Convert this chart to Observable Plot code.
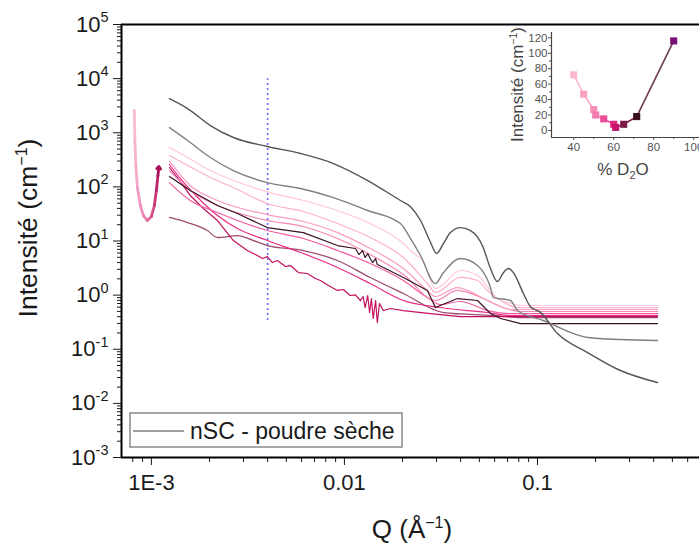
<!DOCTYPE html>
<html><head><meta charset="utf-8">
<script src="https://cdn.jsdelivr.net/npm/d3@7"></script>
<script src="https://cdn.jsdelivr.net/npm/@observablehq/plot@0.6"></script>
<style>
body{margin:0;background:#fff;}
#chart{position:relative;width:699px;height:547px;overflow:hidden;background:#fff;}
</style>
</head><body><div id="chart"></div>
<script>
// ---------- main chart data (Q in Å^-1, intensity in cm^-1) ----------
const qA = [1.24e-3,1.54e-3,2.02e-3,2.66e-3,3.99e-3,5.92e-3,8.77e-3,1.32e-2,1.95e-2,2.20e-2,2.48e-2,2.79e-2,3.00e-2,3.26e-2,3.54e-2,3.99e-2,4.50e-2,5.19e-2,5.71e-2,6.20e-2,6.66e-2,7.08e-2,7.51e-2,8.46e-2,0.092,0.1036,0.127,0.182,0.269,0.419];
const iA = [4266,2800,1358,817,556,413,270,131,56,43,23.9,9.5,5.9,9.0,14.3,17.7,15.6,8.2,3.1,1.78,2.6,3.1,2.6,1.07,0.61,0.48,0.195,0.087,0.0405,0.0243];

const qB = [1.24e-3,1.54e-3,2.02e-3,2.66e-3,3.99e-3,5.92e-3,8.77e-3,1.32e-2,1.95e-2,2.20e-2,2.48e-2,2.96e-2,3.26e-2,3.99e-2,4.89e-2,5.71e-2,5.92e-2,7.25e-2,7.88e-2,0.107,0.182,0.269,0.419];
const iB = [1247,718,349,200,120,93.1,63.5,36.6,21.0,11.1,5.39,1.64,2.61,4.74,3.52,1.38,0.90,0.795,0.519,0.340,0.165,0.151,0.145];

const qP1 = [1.24e-3,1.54e-3,2.02e-3,2.66e-3,3.99e-3,6.13e-3,9.20e-3,1.36e-2,2.02e-2,2.20e-2,2.57e-2,2.96e-2,3.99e-2,4.89e-2,5.71e-2,6.20e-2,7.25e-2,8.46e-2,0.419];
const iP1 = [533,349,200,131,81,56,36.6,21.0,8.98,6.67,4.0,1.32,2.85,2.30,1.22,0.865,0.70,0.643,0.643];

const qP2 = [1.24e-3,1.54e-3,2.02e-3,2.66e-3,3.99e-3,6.13e-3,9.20e-3,1.36e-2,2.02e-2,2.69e-2,2.96e-2,3.99e-2,4.89e-2,5.51e-2,6.43e-2,7.88e-2,0.419];
const iP2 = [379,248,149,97.2,49.2,35.1,21.0,11.6,4.95,1.64,1.12,2.12,1.86,1.22,0.795,0.59,0.59];

const qP3 = [1.24e-3,1.59e-3,2.20e-3,3.99e-3,6.13e-3,9.20e-3,1.36e-2,2.02e-2,2.69e-2,2.96e-2,3.85e-2,5.51e-2,7.25e-2,0.419];
const iP3 = [300,106,56.0,30.8,22.9,14.3,7.26,3.10,1.22,0.94,1.38,0.795,0.542,0.542];

const qP4 = [1.24e-3,1.59e-3,2.20e-3,3.99e-3,6.13e-3,9.20e-3,1.36e-2,2.02e-2,2.96e-2,3.85e-2,5.25e-2,6.43e-2,8.17e-2,0.419];
const iP4 = [200,85.6,45.2,23.9,18.5,11.1,5.62,2.40,0.795,1.22,0.865,0.616,0.498,0.498];

const qP5 = [1.24e-3,1.59e-3,2.20e-3,3.99e-3,6.13e-3,9.20e-3,1.36e-2,2.02e-2,2.69e-2,3.14e-2,3.99e-2,5.51e-2,7.25e-2,0.419];
const iP5 = [120,56,33.6,15.6,11.1,6.67,3.84,1.86,0.903,0.670,0.762,0.519,0.457,0.457];

const qM1 = [1.24e-3,1.41e-3,1.80e-3,2.20e-3,2.79e-3,3.99e-3,6.13e-3,9.20e-3,1.36e-2,2.02e-2,3.14e-2,5.51e-2,7.25e-2,0.419];
const iM1 = [260,143,56,29.5,17.0,10.2,5.87,3.24,1.64,0.795,0.59,0.477,0.42,0.42];

const qN = [1.24e-3,1.41e-3,1.59e-3,1.86e-3,2.20e-3,2.66e-3,3.14e-3,3.54e-3,3.76e-3,3.99e-3,4.24e-3,4.50e-3,4.95e-3,5.25e-3,5.78e-3,6.43e-3,7.07e-3,7.51e-3,8.26e-3,9.20e-3,9.88e-3,1.07e-2,1.14e-2,1.21e-2,1.25e-2,1.28e-2,1.32e-2,1.35e-2,1.38e-2,1.41e-2,1.45e-2,1.48e-2,1.52e-2,1.59e-2,1.73e-2,2.02e-2,2.79e-2,3.99e-2,0.419];
const iN = [228,126,69.2,39.8,23.9,10.2,6.67,5.39,4.74,5.15,4.0,4.36,3.38,3.52,2.61,2.51,2.03,1.86,1.50,1.22,1.27,0.983,1.01,0.795,0.942,0.59,0.983,0.477,0.865,0.37,0.795,0.312,0.70,0.519,0.566,0.519,0.457,0.402,0.402];

const qK = [1.24e-3,1.59e-3,2.20e-3,2.79e-3,3.99e-3,6.13e-3,9.20e-3,1.14e-2,1.19e-2,1.24e-2,1.28e-2,1.32e-2,1.36e-2,1.40e-2,1.45e-2,1.48e-2,2.02e-2,2.69e-2,2.96e-2,3.85e-2,4.89e-2,5.71e-2,6.43e-2,8.17e-2,0.419];
const iK = [155,85.6,45.2,32.2,17.7,14.3,8.24,7.26,5.62,6.67,4.95,5.87,4.74,4.0,4.74,3.67,2.12,1.22,0.59,0.865,0.795,0.457,0.37,0.298,0.298];

const qMV = [1.24e-3,1.54e-3,1.95e-3,2.20e-3,2.79e-3,3.38e-3,3.99e-3,6.13e-3,9.20e-3,1.36e-2,2.02e-2,3.26e-2,5.92e-2,8.17e-2,0.419];
const iMV = [27.2,21.9,15.6,11.6,12.6,10.2,8.24,6.67,4.36,2.12,1.07,0.477,0.42,0.385,0.385];

// curved-arrow annotation
const arrowQ = [8.16e-4,8.21e-4,8.31e-4,8.46e-4,8.77e-4,9.09e-4,9.53e-4,1.0e-3,1.036e-3,1.061e-3,1.081e-3,1.094e-3];
const arrowI = [2575,718,248,97.2,45.2,29.5,23.9,28.3,45.2,85.6,162,238];
const arrowColors = ["#f9bcd6","#f7b2cf","#f5a8c9","#f29cc2","#ee8fba","#ea83b2","#e06a9f","#d4508c","#c8387a","#bb226a","#ac0f5c"];

// dotted marker line
const markerQ = [0.004];
const markerRange = [0.34, 1e4];

// axes
const xDomain = [7e-4, 0.691];
const yDomain = [1e-3, 1e5];
const yMajor = [1e-3,1e-2,1e-1,1,1e1,1e2,1e3,1e4,1e5];
const xMajor = [1e-3, 1e-2, 1e-1];
const xLabels = ["1E-3", "0.01", "0.1"];
const yMinor = [];
for (let k = -3; k < 5; k++) for (let m = 2; m <= 9; m++) yMinor.push(m * 10 ** k);
const xMinor = [8e-4, 9e-4];
for (let k = -3; k < 0; k++) for (let m = 2; m <= 9; m++) { const v = m * 10 ** k; if (v < 0.69) xMinor.push(v); }

const yTitle = ["Intensité (cm", "−1", ")"];
const xTitle = ["Q (Å", "−1", ")"];
const legendLabel = "nSC - poudre sèche";

// ---------- inset data ----------
const pctD2O = [40, 45, 50, 51, 55, 60, 61, 65, 71.5, 90];
const insetI = [72, 47, 27, 20, 15, 8, 4, 8, 18, 116];
const insetColors = ["#fbb6d0","#f8a2c5","#f68fba","#f27cb0","#eb4f98","#e0267e","#c5126a","#7c1d46","#3c0d1f","#7b1078"];
const insetSegColors = ["#fbb6d0","#f8a2c5","#f68fba","#f27cb0","#eb4f98","#e0267e","#c5126a","#7c1d46","#6b3c50"];
const insetYTicks = [0,20,40,60,80,100,120];
const insetYMinor = [10,30,50,70,90,110];
const insetXTicks = [40,60,80,100];
const insetXMinor = [50,70,90];

// ---------- build ----------
const FONT = "'Liberation Sans', Arial, Helvetica, sans-serif";
const rows = (q, I) => q.map((v, i) => ({q: v, I: I[i]}));

const curves = [
  {q: qMV, I: iMV, color: "#9c4c70", w: 1.3, curve: "monotone-x"},
  {q: qN,  I: iN,  color: "#c4105e", w: 1.2, curve: "linear"},
  {q: qM1, I: iM1, color: "#ea2a84", w: 1.2, curve: "monotone-x"},
  {q: qP5, I: iP5, color: "#f35a9f", w: 1.2, curve: "monotone-x"},
  {q: qP4, I: iP4, color: "#f585b4", w: 1.2, curve: "monotone-x"},
  {q: qP3, I: iP3, color: "#f99bc1", w: 1.2, curve: "monotone-x"},
  {q: qP2, I: iP2, color: "#fcb0cc", w: 1.2, curve: "monotone-x"},
  {q: qP1, I: iP1, color: "#ffc7dc", w: 1.2, curve: "monotone-x"},
  {q: qK,  I: iK,  color: "#3a1424", w: 1.2, curve: "linear"},
  {q: qB,  I: iB,  color: "#808080", w: 1.4, curve: "monotone-x"},
  {q: qA,  I: iA,  color: "#555555", w: 1.4, curve: "monotone-x"}
];

const arrowSegs = arrowColors.map((c, i) => ({x1: arrowQ[i], y1: arrowI[i], x2: arrowQ[i+1], y2: arrowI[i+1], c}));

const svg = Plot.plot({
  width: 699, height: 547,
  marginLeft: 121, marginTop: 24, marginRight: 0, marginBottom: 90,
  x: {type: "log", domain: xDomain, label: null},
  y: {type: "log", domain: yDomain, label: null},
  color: {type: "identity"},
  style: {fontFamily: FONT, fontSize: "22px", color: "#1a1a1a", background: "white"},
  marks: [
    Plot.axisY(yMinor, {anchor: "left", tickSize: 4, tickFormat: () => "", label: null}),
    Plot.axisY(yMajor, {anchor: "left", tickSize: 8, tickPadding: 5, tickFormat: d => String(Math.round(Math.log10(d))), label: null}),
    Plot.axisX(xMinor, {anchor: "bottom", tickSize: 5, tickFormat: () => "", label: null}),
    Plot.axisX(xMajor, {anchor: "bottom", tickSize: 8, tickPadding: 9, tickFormat: d => xLabels[xMajor.indexOf(d)], label: null}),
    Plot.ruleX(markerQ, {y1: markerRange[0], y2: markerRange[1], stroke: "#6b6bf5", strokeWidth: 1.6, strokeDasharray: "2,3"}),
    ...curves.map(c => Plot.line(rows(c.q, c.I), {x: "q", y: "I", stroke: c.color, strokeWidth: c.w, curve: c.curve})),
    Plot.link(arrowSegs.slice(0, -1), {x1: "x1", y1: "y1", x2: "x2", y2: "y2", stroke: "c", strokeWidth: 2.8, strokeLinecap: "round"}),
    Plot.arrow(arrowSegs.slice(-1), {x1: "x1", y1: "y1", x2: "x2", y2: "y2", stroke: "c", strokeWidth: 2.8, headLength: 11, headAngle: 80}),
    Plot.ruleX([xDomain[0]], {stroke: "#000", strokeWidth: 2}),
    Plot.ruleY([yDomain[0]], {stroke: "#000", strokeWidth: 2}),
    Plot.ruleY([yDomain[1]], {stroke: "#000", strokeWidth: 2})
  ]
});

const s = d3.select(svg);
// superscript exponents on the y tick labels
s.selectAll('g[aria-label="y-axis tick label"] text').each(function () {
  const e = this.textContent;
  if (!e) return;
  const t = d3.select(this);
  t.text("");
  t.append("tspan").text("10");
  t.append("tspan").attr("dy", -9.5).attr("font-size", 14.5).text(e);
});

// axis titles
const yl = s.append("text").attr("transform", "translate(37,228) rotate(-90)")
  .attr("text-anchor", "middle").attr("font-size", 26.5).attr("fill", "#1a1a1a");
yl.append("tspan").text(yTitle[0]);
yl.append("tspan").attr("dy", -10).attr("font-size", 16).text(yTitle[1]);
yl.append("tspan").attr("dy", 10).text(yTitle[2]);

const xl = s.append("text").attr("x", 412).attr("y", 538)
  .attr("text-anchor", "middle").attr("font-size", 26).attr("fill", "#1a1a1a");
xl.append("tspan").text(xTitle[0]);
xl.append("tspan").attr("dy", -10).attr("font-size", 16).text(xTitle[1]);
xl.append("tspan").attr("dy", 10).text(xTitle[2]);

// legend
s.append("rect").attr("x", 130).attr("y", 413).attr("width", 272).attr("height", 34)
  .attr("fill", "white").attr("stroke", "#8a8a8a").attr("stroke-width", 1.5);
s.append("line").attr("x1", 133).attr("x2", 184).attr("y1", 431).attr("y2", 431)
  .attr("stroke", "#808080").attr("stroke-width", 1.5);
s.append("text").attr("x", 190).attr("y", 439).attr("font-size", 23).attr("text-anchor", "start")
  .attr("fill", "#1a1a1a").text(legendLabel);

document.getElementById("chart").appendChild(svg);

// ---------- inset ----------
const insetPts = pctD2O.map((p, i) => ({p, I: insetI[i], c: insetColors[i]}));
const insetSegs = insetSegColors.map((c, i) => ({x1: pctD2O[i], y1: insetI[i], x2: pctD2O[i+1], y2: insetI[i+1], c}));
const insetX0 = 28.9, insetY0 = -9.1;
const inset = Plot.plot({
  width: 200, height: 160,
  marginLeft: 50, marginTop: 12, marginBottom: 43, marginRight: 0,
  x: {domain: [insetX0, 103.9], label: null},
  y: {domain: [insetY0, 126.9], label: null},
  color: {type: "identity"},
  style: {fontFamily: FONT, fontSize: "11.5px", color: "#555", position: "absolute", left: "501px", top: "20px", background: "transparent", maxWidth: "none"},
  marks: [
    Plot.axisY(insetYMinor, {anchor: "left", tickSize: 2, tickFormat: () => "", label: null}),
    Plot.axisY(insetYTicks, {anchor: "left", tickSize: 3, tickPadding: 1, label: null}),
    Plot.axisX(insetXMinor, {anchor: "bottom", tickSize: 2, tickFormat: () => "", label: null}),
    Plot.axisX(insetXTicks, {anchor: "bottom", tickSize: 3, tickPadding: 2, label: null}),
    Plot.ruleX([insetX0], {stroke: "#444", strokeWidth: 1.2}),
    Plot.ruleY([insetY0], {stroke: "#444", strokeWidth: 1.2}),
    Plot.link(insetSegs, {x1: "x1", y1: "y1", x2: "x2", y2: "y2", stroke: "c", strokeWidth: 1.6}),
    Plot.dot(insetPts, {x: "p", y: "I", fill: "c", symbol: "square", r: 4})
  ]
});
const si = d3.select(inset);
const iyl = si.append("text").attr("transform", "translate(22,64.5) rotate(-90)")
  .attr("text-anchor", "middle").attr("font-size", 17).attr("fill", "#444");
iyl.append("tspan").text(yTitle[0]);
iyl.append("tspan").attr("dy", -6.5).attr("font-size", 10.5).text(yTitle[1]);
iyl.append("tspan").attr("dy", 6.5).text(yTitle[2]);
const ixl = si.append("text").attr("x", 122).attr("y", 155)
  .attr("text-anchor", "middle").attr("font-size", 17).attr("fill", "#444");
ixl.append("tspan").text("% D");
ixl.append("tspan").attr("dy", 4).attr("font-size", 11).text("2");
ixl.append("tspan").attr("dy", -4).text("O");
document.getElementById("chart").appendChild(inset);
</script>
</body></html>
